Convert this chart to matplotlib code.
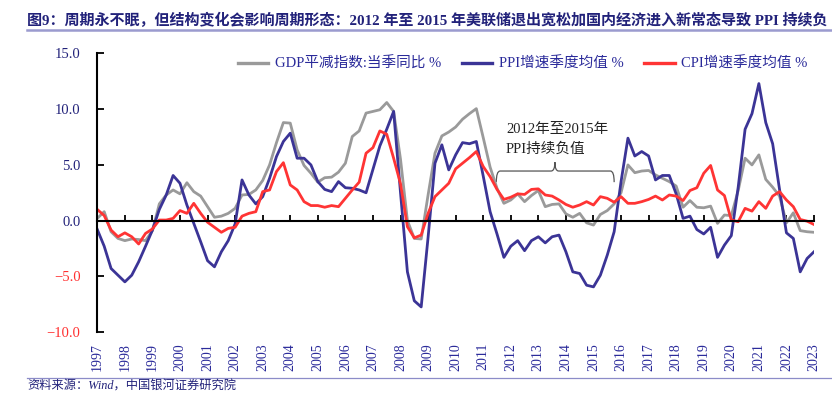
import matplotlib
matplotlib.use('Agg')
import matplotlib.pyplot as plt
from matplotlib.path import Path
from matplotlib.patches import PathPatch
import numpy as np

# ---------------- data (quarterly, 1997Q1 .. 2023Q1) ----------------
year_labels = [str(y) for y in range(1997, 2024)]

gdp_deflator = [
    0.2, 0.8, -1.0, -1.6, -1.8, -1.65, -1.7, -1.8,
    -0.9, 1.5, 2.3, 2.75, 2.4, 3.4, 2.6, 2.2,
    1.25, 0.3, 0.4, 0.65, 1.1, 2.3, 2.35, 2.75,
    3.6, 5.0, 7.0, 8.8, 8.75, 6.35, 4.95, 4.25,
    3.45, 3.85, 3.9, 4.35, 5.15, 7.55, 8.05, 9.65,
    9.8, 9.95, 10.6, 9.8, 5.5, 0.0, -1.6, -1.65,
    2.3, 6.05, 7.6, 7.95, 8.4, 9.1, 9.6, 10.05,
    7.45, 4.8, 2.9, 1.55, 1.85, 2.4, 1.7, 2.25,
    2.7, 1.25, 1.45, 1.5, 0.6, 0.3, 0.65, -0.2,
    -0.4, 0.55, 0.9, 1.5, 2.5, 5.0, 4.3, 4.45,
    4.5, 4.1, 3.8, 3.5, 3.1, 1.2, 1.8, 1.2,
    1.15, 1.3, -0.25, 0.5, 0.45, 2.7, 5.6, 5.0,
    5.9, 3.7, 3.0, 2.2, -0.2, 0.7, -0.9, -1.0,
    -1.05,
]

ppi = [
    -0.8, -2.3, -4.3, -4.9, -5.5, -4.9, -3.7, -2.3,
    -0.85, 1.0, 2.3, 4.05, 3.35, 1.4, -0.25, -1.9,
    -3.6, -4.15, -2.8, -1.8, -0.3, 3.65, 2.3, 1.5,
    2.15, 3.8, 5.75, 7.1, 7.85, 5.6, 5.6, 5.0,
    3.5, 2.8, 2.6, 3.5, 2.95, 2.9, 2.75, 2.5,
    4.6, 6.7, 8.2, 9.8, 2.5, -4.6, -7.2, -7.75,
    -1.5, 5.15, 6.8, 4.55, 5.9, 7.0, 6.9, 7.1,
    4.0, 0.8, -1.2, -3.3, -2.3, -1.8, -2.7, -1.8,
    -1.45, -2.0, -1.45, -1.3, -2.8, -4.6, -4.75, -5.8,
    -5.95, -4.9, -3.1, -1.0, 3.5, 7.4, 5.8, 6.2,
    5.8, 3.65, 4.05, 4.05, 2.4, 0.2, 0.4, -0.8,
    -1.2, -0.6, -3.3, -2.2, -1.35, 3.0, 8.2, 9.6,
    12.3, 8.8, 6.9, 2.8, -1.1, -1.6, -4.6, -3.4,
    -2.8,
]

cpi = [
    1.0, 0.45, -0.85, -1.45, -1.1, -1.45, -2.1, -1.15,
    -0.75, 0.05, 0.05, 0.2, 0.9, 0.65, 1.55, 0.65,
    -0.15, -0.6, -1.05, -0.7, -0.6, 0.4, 0.65, 0.8,
    2.6, 2.75, 4.4, 5.2, 3.2, 2.75, 1.7, 1.35,
    1.35, 1.2, 1.35, 1.25, 2.0, 2.75, 3.45, 6.05,
    6.55, 8.05, 7.75, 5.6, 3.3, -0.55, -1.55, -1.3,
    0.65, 2.15, 2.75, 3.35, 4.65, 5.15, 5.65, 6.2,
    4.85, 3.95, 2.8, 1.9, 2.1, 2.4, 2.35, 2.8,
    2.85, 2.3, 2.2, 1.85, 1.45, 1.2, 1.4, 1.7,
    1.4, 2.15, 2.0, 1.65, 2.15, 1.55, 1.55, 1.7,
    1.9, 2.2, 1.85, 2.3, 2.2, 1.8, 2.7, 2.95,
    4.25, 4.95, 2.75, 2.25, 0.05, -0.1, 1.1, 0.85,
    1.7, 1.1, 2.2, 2.6, 1.85, 1.25, 0.1, -0.05,
    -0.35,
]

series_names = ['GDP平减指数:当季同比 %', 'PPI增速季度均值 %', 'CPI增速季度均值 %']
y_ticks = [-10, -5, 0, 5, 10, 15]

title_text = ('图9：周期永不眠，但结构变化会影响周期形态：2012 年至 2015 年美联储退出宽松'
              '加国内经济进入新常态导致 PPI 持续负')
source_text = '资料来源：Wind，中国银河证券研究院'

# ---------------- style ----------------
plt.rcParams['font.family'] = ['Liberation Serif', 'Noto Sans CJK SC']
plt.rcParams['axes.unicode_minus'] = True

NAVY = '#22227a'
BLUE_TXT = '#2a2a9a'
RED = '#ff3030'
GRAY = '#9a9a9a'
PPI_C = '#3b3496'
CPI_C = '#ff3434'

W, H = 832, 394
fig = plt.figure(figsize=(W / 100, H / 100), dpi=100)

x0, x1 = 97.3, 814.0
y_top, y_bot = 53.5, 332.0
ax = fig.add_axes([x0 / W, 1 - y_bot / H, (x1 - x0) / W, (y_bot - y_top) / H])

x = np.arange(len(ppi))
ax.plot(x, gdp_deflator, color=GRAY, lw=2.0, label=series_names[0], solid_joinstyle='round')
ax.plot(x, ppi, color=PPI_C, lw=2.0, label=series_names[1], solid_joinstyle='round')
ax.plot(x, cpi, color=CPI_C, lw=2.0, label=series_names[2], solid_joinstyle='round')

ax.set_xlim(0, len(ppi) - 1)
ax.set_ylim(-10, 15)

# spines
for s in ['top', 'right']:
    ax.spines[s].set_visible(False)
ax.spines['left'].set_linewidth(1.5)
ax.spines['bottom'].set_position(('data', 0))
ax.spines['bottom'].set_linewidth(1.5)

# y ticks
ax.set_yticks(y_ticks)
ax.set_yticklabels([f'{v:.1f}'.replace('-', '\u2212') for v in y_ticks])
ax.tick_params(axis='y', direction='in', length=5, width=1.3, labelsize=10.5, pad=12)
for lab, v in zip(ax.get_yticklabels(), y_ticks):
    lab.set_color(RED if v < 0 else NAVY)

# x ticks on zero line (pointing up), labels at bottom via twin axis
xt = np.arange(0, len(ppi), 4)
ax.set_xticks(xt)
ax.tick_params(axis='x', direction='in', length=4, width=1.3, labelbottom=False)

ax2 = ax.twiny()
ax2.set_xlim(ax.get_xlim())
ax2.xaxis.tick_bottom()
ax2.set_xticks(xt)
ax2.set_xticklabels(year_labels, rotation=90, color=BLUE_TXT, fontsize=10)
ax2.tick_params(axis='x', length=0, pad=8)
for s in ax2.spines.values():
    s.set_visible(False)

# legend
leg = ax.legend(loc='upper left', bbox_to_anchor=(0.188, 1.008), ncol=3, frameon=False,
                fontsize=10.5, handlelength=2.1, handletextpad=0.45, columnspacing=1.4,
                labelcolor=BLUE_TXT, borderaxespad=0)
for line in leg.get_lines():
    line.set_linewidth(2.4)

# annotation text + brace
ax.text(59.3, 8.2, '2012年至2015年', fontsize=10.5, color='#222222', ha='left', va='center')
ax.text(59.3, 6.45, 'PPI持续负值', fontsize=10.5, color='#222222', ha='left', va='center')

bx0, bx1, bxm = 57.9, 75.0, 66.4
yb_end, yb_bar, yb_tip = 3.45, 4.45, 5.25
dx = 0.55
verts = [(bx0, yb_end), (bx0, yb_bar), (bx0 + dx, yb_bar),
         (bxm - dx, yb_bar), (bxm, yb_bar), (bxm, yb_tip),
         (bxm, yb_bar), (bxm + dx, yb_bar),
         (bx1 - dx, yb_bar), (bx1, yb_bar), (bx1, yb_end)]
codes = [Path.MOVETO, Path.CURVE3, Path.CURVE3,
         Path.LINETO, Path.CURVE3, Path.CURVE3,
         Path.CURVE3, Path.CURVE3,
         Path.LINETO, Path.CURVE3, Path.CURVE3]
ax.add_patch(PathPatch(Path(verts, codes), fill=False, edgecolor='#555555', lw=0.9))

# title + rules + source
fig.text(27 / W, 1 - 20.5 / H, title_text, fontsize=10.85, fontweight='bold', color=NAVY,
         ha='left', va='center')
fig.add_artist(plt.Line2D([27 / W, 1], [1 - 30 / H, 1 - 30 / H], color='#9b9bcf', lw=1.8))
fig.add_artist(plt.Line2D([27 / W, 1], [1 - 378 / H, 1 - 378 / H], color='#8c8cc8', lw=0.9))
fig.text(27 / W, 1 - 387 / H, source_text, fontsize=8.8, style='italic', color=NAVY,
         ha='left', va='center')

fig.savefig('out.png', dpi=100)
